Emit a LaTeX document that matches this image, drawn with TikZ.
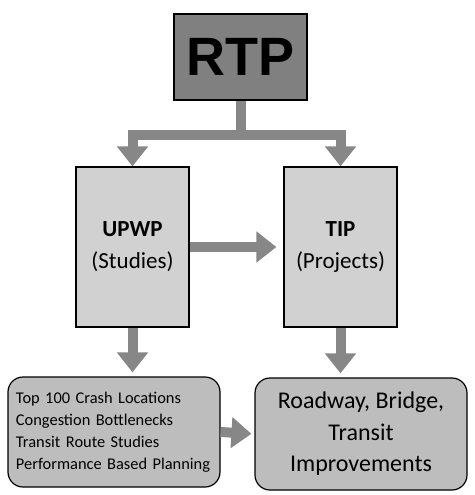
\documentclass[tikz,border=0pt]{standalone}
\usepackage{fontspec}
\setmainfont{Carlito}
\newfontfamily\arialfont{Liberation Sans}
\usetikzlibrary{arrows.meta}
\tikzset{>={Triangle[width=30pt,length=20pt]}}
\tikzset{
  box/.style={draw=black, line width=1.2pt, fill=black!18, minimum width=113pt, minimum height=160pt, inner sep=0pt, align=center, font=\fontsize{23}{32}\selectfont},
  roundbox/.style={draw=black, line width=1.2pt, fill=black!26, rounded corners=15pt, minimum width=212pt, minimum height=110pt, inner sep=0pt},
  flow/.style={->, draw=black!47, line width=10pt}
}

\begin{document}
\begin{tikzpicture}[x=1pt,y=-1pt]
    \useasboundingbox (0,0) rectangle (474,495);
    \node[draw=black, line width=1.6pt, fill=black!50, minimum width=133pt, minimum height=86pt, inner sep=0pt, font=\arialfont\bfseries\fontsize{54}{60}\selectfont] (rtp) at (240.5,57) {RTP};
    \node[box] (upwp) at (132.5,247) {\textbf{UPWP}\\(Studies)};
    \node[box] (tip) at (340.5,247) {\textbf{TIP}\\(Projects)};
    \node[roundbox, text width=196pt, align=left, inner xsep=8pt, font=\fontsize{16.4}{22}\selectfont] (crash) at (114,432) {Top 100 Crash Locations\\Congestion Bottlenecks\\Transit Route Studies\\Performance Based Planning};
    \node[roundbox, minimum height=112pt, align=center, font=\fontsize{24}{31.5}\selectfont] (improve) at (361,434) {Roadway, Bridge,\\Transit\\Improvements};
    % arrows
    \draw[flow] (rtp.south) -- ++(0,34) -| (upwp.north);
    \draw[flow] (rtp.south) -- ++(0,34) -| (tip.north);
    \draw[flow, shorten >=7pt] (upwp.east) -- (tip.west);
    \draw[flow, shorten >=4pt] (upwp.south) -- (upwp.south |- crash.north);
    \draw[flow, shorten >=4pt] (tip.south) -- (tip.south |- improve.north);
    \draw[flow, shorten >=3pt] (crash.east) -- (improve.west);
\end{tikzpicture}
\end{document}
